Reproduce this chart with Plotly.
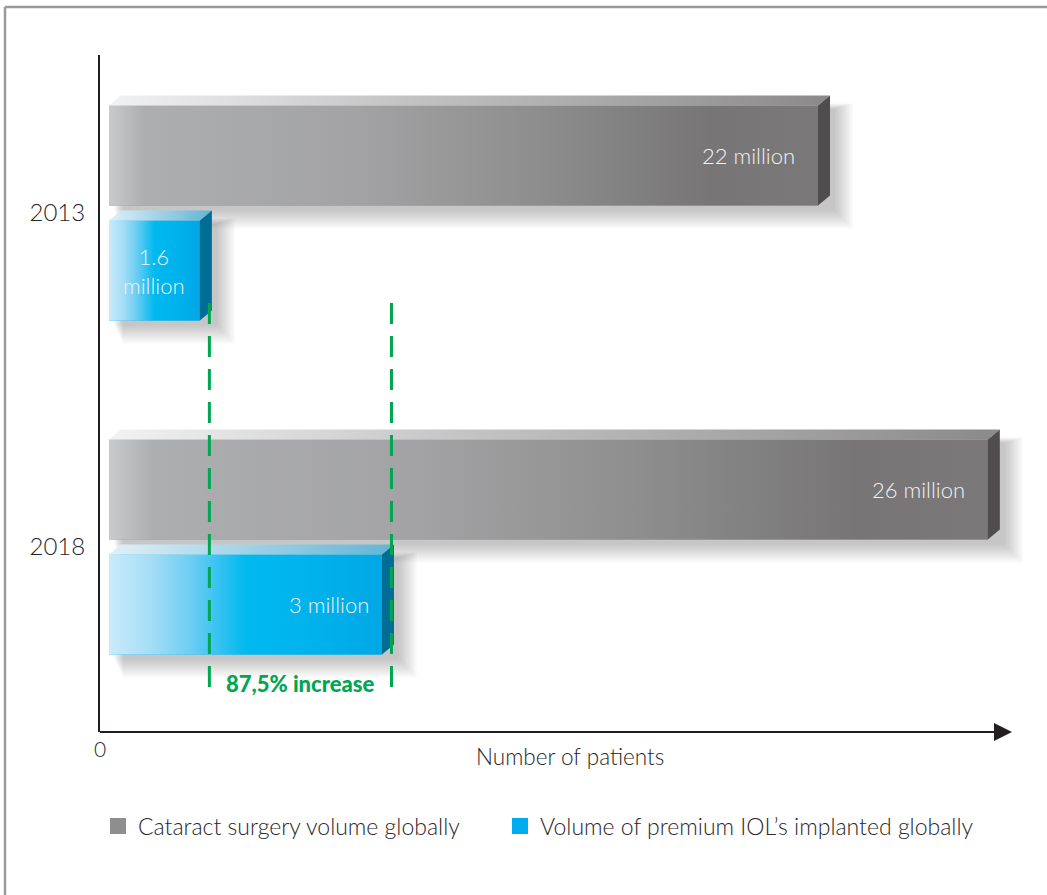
import plotly.graph_objects as go

# ---------------- data ----------------
years = ["2013", "2018"]
series_names = ["Cataract surgery volume globally",
                "Volume of premium IOL\u2019s implanted globally"]
cataract_millions = [22, 26]
premium_millions = [1.6, 3]
# bar lengths as drawn in the source graphic (it is not to scale),
# expressed in units where the 2013 cataract bar = 22
cataract_drawn = [22.0, 27.27]
premium_drawn = [2.82, 8.47]
cataract_labels = ["22 million", "26 million"]
premium_labels = ["1.6<br>million", "3 million"]
increase_label = "87,5% increase"
x_axis_title = "Number of patients"

# ---------------- styles ----------------
FONT = "Lato"
GRAY_SOLID = "#8e8e8e"
BLUE_SOLID = "#00aeef"
GREEN = "#00a651"
TEXT = "#2a2627"
gray_front_scale = [[0, "#c9cacc"], [0.05, "#adaeb0"], [0.35, "#a3a3a5"],
                    [0.6, "#8e8e8e"], [0.85, "#777576"], [1, "#7a7879"]]
gray_top_scale = [[0, "#f2f2f2"], [0.4, "#c4c4c5"], [1, "#8a8a8a"]]
gray_side = "#4f4d4e"
blue_front_scale = [[0, "#c9ebfb"], [0.15, "#a6def6"], [0.3, "#6dcdf3"],
                    [0.5, "#00b9ef"], [0.75, "#00b2ec"], [1, "#00a8e5"]]
blue_top_scale = [[0, "#dff0f8"], [0.5, "#9fd1e6"], [1, "#62b5d4"]]
blue_side = "#006d94"

# ---------------- geometry ----------------
W, H = 1047, 895
L, R, T, B = 100, 0, 55, 163
PW, PH = W - L - R, H - T - B
K = 709 / 22.0            # px per x unit
XMIN = -9 / K
XMAX = XMIN + PW / K
YPX = 334.0               # px per category
YTOP = -(213 - T) / YPX
YBOT = YTOP + PH / YPX
BARGAP, BARGROUPGAP = 0.3114, 0.1304
SLOT = (1 - BARGAP) / 2
BW = SLOT * (1 - BARGROUPGAP)
DX = 12 / K
DY = 10 / YPX
GUIDE_DX = 9.5 / K


def px2x(px):
    return (px - L) / PW


def py2y(py):
    return (H - B - py) / PH


def ypx(py):  # pixel row -> y data
    return YTOP + (py - T) / YPX


fig = go.Figure()
shapes = []

pos = list(range(len(years)))
groups = [
    (cataract_drawn, -SLOT / 2, gray_front_scale, gray_top_scale, gray_side),
    (premium_drawn, SLOT / 2, blue_front_scale, blue_top_scale, blue_side),
]

# soft drop shadows (below traces)
for lengths, off, *_ in groups:
    for i, ln in enumerate(lengths):
        c = pos[i] + off
        top, bot = c - BW / 2, c + BW / 2
        for j in range(1, 11):
            e = 2.0 * j
            shapes.append(dict(
                type="rect", xref="x", yref="y", layer="below",
                x0=(4 + e * 0.5) / K, x1=ln + DX + (3 + e) / K,
                y0=top + (4 - e * 0.3) / YPX, y1=bot + (3 + e) / YPX,
                fillcolor="rgba(0,0,0,0.022)", line=dict(width=0)))

# bars (library positioning)
fig.add_trace(go.Bar(y=pos, x=cataract_drawn, orientation="h", name=series_names[0],
                     marker=dict(color=GRAY_SOLID, line=dict(width=0)),
                     showlegend=False, hoverinfo="skip",
                     customdata=cataract_millions))
fig.add_trace(go.Bar(y=pos, x=premium_drawn, orientation="h", name=series_names[1],
                     marker=dict(color=BLUE_SOLID, line=dict(width=0)),
                     showlegend=False, hoverinfo="skip",
                     customdata=premium_millions))

# 3D faces with gradients
for lengths, off, fscale, tscale, side in groups:
    for i, ln in enumerate(lengths):
        c = pos[i] + off
        top, bot = c - BW / 2, c + BW / 2
        # front face gradient
        fig.add_trace(go.Scatter(x=[0, ln, ln, 0, 0], y=[top, top, bot, bot, top],
                                 mode="lines", fill="toself", line=dict(width=0),
                                 fillgradient=dict(type="horizontal", colorscale=fscale),
                                 hoverinfo="skip", showlegend=False))
        # top face
        fig.add_trace(go.Scatter(x=[0, ln, ln + DX, DX, 0],
                                 y=[top, top, top - DY, top - DY, top],
                                 mode="lines", fill="toself", line=dict(width=0),
                                 fillgradient=dict(type="horizontal", colorscale=tscale),
                                 hoverinfo="skip", showlegend=False))
        # side face
        fig.add_trace(go.Scatter(x=[ln, ln + DX, ln + DX, ln, ln],
                                 y=[top, top - DY, bot - DY, bot, top],
                                 mode="lines", fill="toself", line=dict(width=0),
                                 fillcolor=side, hoverinfo="skip", showlegend=False))

# green dashed guide lines at the premium bar ends
for ln in premium_drawn:
    fig.add_trace(go.Scatter(x=[ln + GUIDE_DX, ln + GUIDE_DX], y=[ypx(303), ypx(692)],
                             mode="lines", line=dict(color=GREEN, width=3, dash="21px,12px"),
                             hoverinfo="skip", showlegend=False))

# legend entries (two legends, so each entry can be placed like the source)
for name, col, lg in zip(series_names, [GRAY_SOLID, BLUE_SOLID], ["legend", "legend2"]):
    fig.add_trace(go.Scatter(x=[None], y=[None], mode="markers", name=name, legend=lg,
                             marker=dict(symbol="square", size=16, color=col)))

ann = []
lab_font = dict(family=FONT, size=22, color="#f2f2f2", weight=300)
for i, ln in enumerate(cataract_drawn):
    ann.append(dict(x=ln, y=pos[i] - SLOT / 2, xref="x", yref="y", text=cataract_labels[i],
                    showarrow=False, xanchor="right", yanchor="middle", xshift=-21,
                    font=lab_font))
for i, ln in enumerate(premium_drawn):
    if i == 0:
        ann.append(dict(x=ln / 2, y=pos[i] + SLOT / 2, xref="x", yref="y",
                        text=premium_labels[i], showarrow=False, xanchor="center",
                        yanchor="middle", font=lab_font))
    else:
        ann.append(dict(x=ln, y=pos[i] + SLOT / 2, xref="x", yref="y",
                        text=premium_labels[i], showarrow=False, xanchor="right",
                        yanchor="middle", xshift=-11, font=lab_font))

# increase label between the guide lines
ann.append(dict(x=(premium_drawn[0] + premium_drawn[1]) / 2 + GUIDE_DX, y=ypx(683),
                xref="x", yref="y",
                text=increase_label, showarrow=False, xanchor="center", yanchor="middle",
                font=dict(family=FONT, size=22, color=GREEN, weight=900)))
# axis texts
ann.append(dict(x=px2x(100), y=py2y(748), xref="paper", yref="paper", text="0",
                showarrow=False, xanchor="center", yanchor="middle",
                font=dict(family=FONT, size=21, color=TEXT, weight=300)))
ann.append(dict(x=px2x(570), y=py2y(756), xref="paper", yref="paper", text=x_axis_title,
                showarrow=False, xanchor="center", yanchor="middle",
                font=dict(family=FONT, size=22.5, color=TEXT, weight=300)))

# x axis line with arrow head
shapes.append(dict(type="line", xref="paper", yref="paper", x0=0, x1=px2x(998),
                   y0=0, y1=0, line=dict(color="#231f20", width=2)))
shapes.append(dict(type="path", xref="paper", yref="paper",
                   path=f"M {px2x(994)} {py2y(723)} L {px2x(1012)} {py2y(732)} "
                        f"L {px2x(994)} {py2y(741)} Z",
                   fillcolor="#231f20", line=dict(width=0)))
# outer frame (top and left edges)
shapes.append(dict(type="line", xref="paper", yref="paper", x0=px2x(5), x1=px2x(1047),
                   y0=py2y(7), y1=py2y(7), line=dict(color="#9a9a9a", width=2.5)))
shapes.append(dict(type="line", xref="paper", yref="paper", x0=px2x(5), x1=px2x(5),
                   y0=py2y(7), y1=py2y(895), line=dict(color="#9a9a9a", width=2.5)))

legend_common = dict(orientation="h", xanchor="left", yanchor="middle",
                     font=dict(family=FONT, size=23, color=TEXT, weight=300),
                     itemclick=False, itemdoubleclick=False, bgcolor="rgba(0,0,0,0)")

fig.update_layout(
    width=W, height=H,
    margin=dict(l=L, r=R, t=T, b=B, pad=0),
    paper_bgcolor="white", plot_bgcolor="white",
    barmode="group", bargap=BARGAP, bargroupgap=BARGROUPGAP,
    xaxis=dict(range=[XMIN, XMAX], showgrid=False, zeroline=False, showline=False,
               showticklabels=False, ticks="", fixedrange=True),
    yaxis=dict(range=[YBOT, YTOP], tickvals=pos, ticktext=years, showgrid=False,
               zeroline=False, showline=True, linecolor="#231f20", linewidth=2,
               ticks="", ticklabelstandoff=8,
               tickfont=dict(family=FONT, size=24, color=TEXT, weight=300), fixedrange=True),
    legend=dict(x=px2x(98), y=py2y(826), **legend_common),
    legend2=dict(x=px2x(500), y=py2y(826), **legend_common),
    shapes=shapes, annotations=ann,
    font=dict(family=FONT, color=TEXT),
)

fig.write_html("out.html", config={"displayModeBar": False},
               post_script="document.body.style.margin='0';")
